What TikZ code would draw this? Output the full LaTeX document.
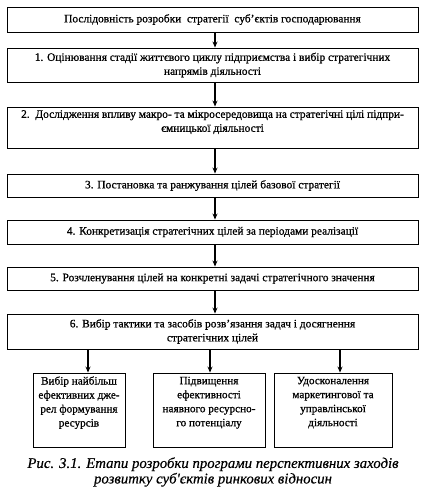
\documentclass[tikz,border=0pt]{standalone}
\usepackage{fontspec}
\setmainfont{Liberation Serif}
\newfontfamily\boxfont{Liberation Serif}[FakeBold=0.8]
\newfontfamily\capfont{Liberation Serif}[FakeBold=0.5]
\usetikzlibrary{arrows.meta}
\begin{document}
\begin{tikzpicture}[x=1pt,y=-1pt,
  box/.style={draw, line width=0.9pt, align=center, inner sep=2pt, font=\boxfont\fontsize{11.4}{14}\selectfont, minimum width=411pt},
  sbox/.style={draw, line width=0.9pt, align=center, inner sep=2pt, font=\boxfont\fontsize{11.2}{14}\selectfont, minimum height=74pt},
  arr/.style={line width=1.1pt, -{Stealth[length=6pt,width=5pt]}}]
\useasboundingbox (0,0) rectangle (427,497);
\node[box, minimum height=25pt] (b0) at (212.5,19.5) {Послідовність розробки\ \ стратегії\ \ суб’єктів господарювання};
\node[box, minimum height=34pt] (b1) at (212.5,65) {1. Оцінювання стадії життєвого циклу підприємства і вибір стратегічних\\напрямів діяльності};
\node[box, minimum height=41pt] (b2) at (212.5,127.5) {2.\ \ Дослідження впливу макро- та мікросередовища на стратегічні цілі підпри-\\ємницької діяльності\\[-1pt]};
\node[box, minimum height=23pt] (b3) at (212.5,185.5) {3. Постановка та ранжування цілей базової стратегії};
\node[box, minimum height=24pt] (b4) at (212.5,232) {4. Конкретизація стратегічних цілей за періодами реалізації};
\node[box, minimum height=23pt] (b5) at (212.5,278.5) {5. Розчленування цілей на конкретні задачі стратегічного значення};
\node[box, minimum height=35pt] (b6) at (212.5,331.5) {6. Вибір тактики та засобів розв’язання задач і досягнення\\стратегічних цілей};
\node[sbox, minimum width=92pt] (s1) at (79,410) {Вибір найбільш\\ефективних дже-\\рел формування\\ресурсів\\[3pt]};
\node[sbox, minimum width=112pt] (s2) at (209,410) {Підвищення\\ефективності\\наявного ресурсно-\\го потенціалу\\[3pt]};
\node[sbox, minimum width=118pt] (s3) at (333,410) {Удосконалення\\маркетингової та\\управлінської\\діяльності\\[3pt]};
\node[align=center, font=\capfont\fontsize{14.8}{15.5}\selectfont\itshape] (cap) at (213,472) {Рис. 3.1. Етапи розробки програми перспективних заходів\\розвитку суб'єктів ринкових відносин};
\coordinate (ax) at (215,0);
\draw[arr] (b0.south -| ax) -- (b1.north -| ax);
\draw[arr] (b1.south -| ax) -- (b2.north -| ax);
\draw[arr] (b2.south -| ax) -- (b3.north -| ax);
\draw[arr] (b3.south -| ax) -- (b4.north -| ax);
\draw[arr] (b4.south -| ax) -- (b5.north -| ax);
\draw[arr] (b5.south -| ax) -- (b6.north -| ax);
\coordinate (x1) at (88,0);
\coordinate (x2) at (210,0);
\coordinate (x3) at (340,0);
\draw[arr] (b6.south -| x1) -- (s1.north -| x1);
\draw[arr] (b6.south -| x2) -- (s2.north -| x2);
\draw[arr] (b6.south -| x3) -- (s3.north -| x3);
\end{tikzpicture}
\end{document}
